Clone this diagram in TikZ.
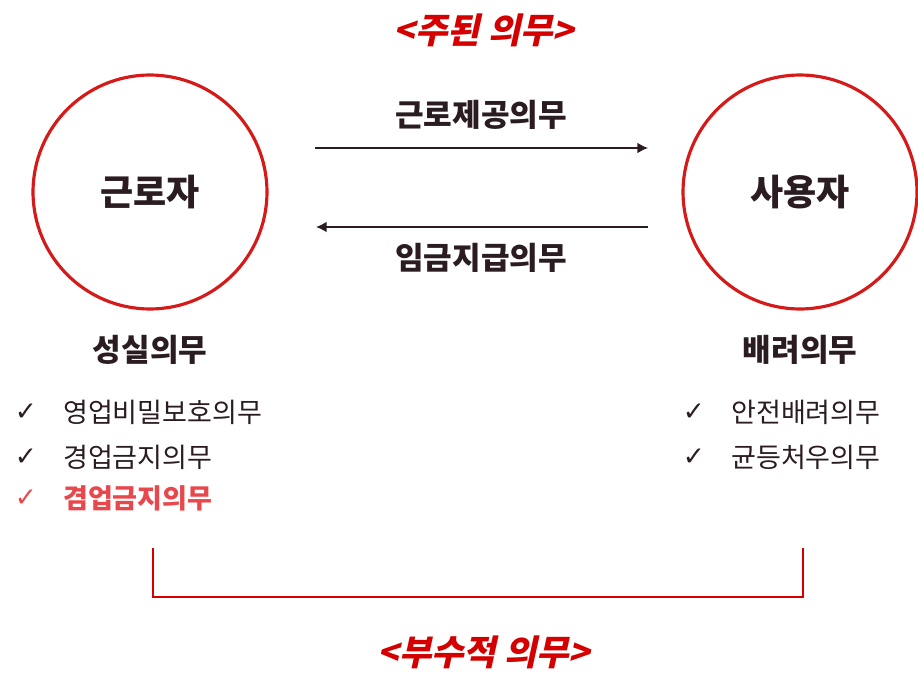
\documentclass[tikz,border=0pt]{standalone}
\usepackage{fontspec}
\setmainfont{Noto Sans CJK KR}
\newfontfamily\symfont{DejaVu Sans}
\newfontfamily\slantfont[FakeSlant=0.22]{Noto Sans CJK KR}
\usepackage{tikz}
\usetikzlibrary{arrows.meta,positioning}
\definecolor{ink}{HTML}{2A1C21}
\definecolor{ring}{HTML}{D51A1A}
\definecolor{head}{HTML}{D40000}
\definecolor{alert}{HTML}{E8484B}
\tikzset{
  party/.style={circle, draw=ring, line width=1.8pt, minimum size=4.68cm, inner sep=0pt,
    text=ink, font=\fontsize{20.5}{22}\selectfont\bfseries},
  flow/.style={draw=ink, line width=0.8pt, -{Latex[length=6pt,width=6pt]}},
  lab/.style={text=ink, font=\fontsize{17.7}{19}\selectfont\bfseries},
  item/.style={text=ink, anchor=west, font=\fontsize{15.4}{17}\selectfont},
  tick/.style={text=ink, font=\symfont\fontsize{15}{17}\selectfont},
  title/.style={text=head, font=\slantfont\fontsize{20}{22}\selectfont\bfseries},
  brace/.style={draw=head, line width=1.2pt},
}
\begin{document}
\begin{tikzpicture}[x=0.02cm,y=-0.02cm]
  \useasboundingbox (0,0) rectangle (918,693);

  \node[title] (main) at (484,30) {<주된 의무>};

  \node[party] (wk) at (150,192) {근로자};
  \node[party] (em) at (800,192) {사용자};

  \coordinate (a1) at (315,148);
  \coordinate (a2) at (648,148);
  \coordinate (b1) at (648,227);
  \coordinate (b2) at (316,227);
  \draw[flow] (a1) -- (a2);
  \draw[flow] (b1) -- (b2);
  \node[lab] (work) at (481,115) {근로제공의무};
  \node[lab] (pay) at (481,258) {임금지급의무};

  \node[lab] (sinc) at (150,350) {성실의무};
  \node[lab] (care) at (800,350) {배려의무};

  % left list
  \node[tick] (t1) at (26,412) {✓};
  \node[item] (l1) at (57,412) {영업비밀보호의무};
  \node[tick] (t2) at (26,457) {✓};
  \node[item] (l2) at (57,457) {경업금지의무};
  \node[tick, text=alert] (t3) at (26,498) {✓};
  \node[item, text=alert, font=\fontsize{15.4}{17}\selectfont\bfseries] (l3) at (57,498) {겸업금지의무};

  % right list
  \node[tick] (t4) at (694,412) {✓};
  \node[item] (r1) at (725,412) {안전배려의무};
  \node[tick] (t5) at (694,457) {✓};
  \node[item] (r2) at (725,457) {균등처우의무};

  \coordinate (c1) at (153,548);
  \coordinate (c2) at (803,548);
  \draw[brace] (c1) -- (c1 |- 0,597) -- (c2 |- 0,597) -- (c2);

  \node[title] (side) at (484,652) {<부수적 의무>};
\end{tikzpicture}
\end{document}
